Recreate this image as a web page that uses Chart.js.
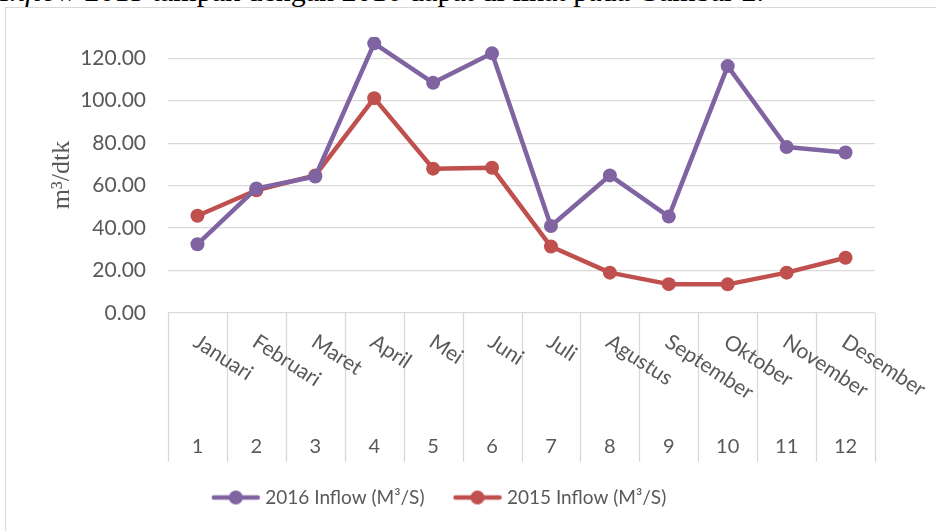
<!DOCTYPE html>
<html>
<head>
<meta charset="utf-8">
<script src="https://cdn.jsdelivr.net/npm/chart.js@4/dist/chart.umd.min.js"></script>
<style>
    body { margin: 0; background: #fff; width: 936px; height: 531px; overflow: hidden; position: relative; }
    #caption { position: absolute; left: 0; top: -24px; font: 30px 'Liberation Serif', serif; line-height: 30px; color: #000; white-space: nowrap; }
    #frame { position: absolute; left: 5px; top: 7px; width: 960px; height: 560px; border: 1px solid #d9d9d9; background: transparent; }
    #chart { position: absolute; left: 0; top: 0; }
</style>
</head>
<body>
<div id="caption"><i>Inflow</i> 2015 tampak dengan 2016 dapat di lihat pada Gambar 2.</div>
<div id="frame"></div>
<canvas id="chart" width="936" height="531"></canvas>
<script>
// Data grafik inflow bulanan
const months = ['Januari', 'Februari', 'Maret', 'April', 'Mei', 'Juni', 'Juli', 'Agustus', 'September', 'Oktober', 'November', 'Desember'];
const monthNumbers = ['1', '2', '3', '4', '5', '6', '7', '8', '9', '10', '11', '12'];
const inflow2016 = [32.4, 58.7, 64.3, 127.0, 108.4, 122.3, 41.0, 64.8, 45.4, 116.3, 78.2, 75.6];
const inflow2015 = [45.8, 57.8, 64.8, 101.2, 68.0, 68.4, 31.3, 19.0, 13.6, 13.5, 19.0, 26.0];
const yTicks = [0, 20, 40, 60, 80, 100, 120];

const PURPLE = '#8064A2';
const RED = '#C0504D';
const TEXT = '#595959';
const GRID = '#d9d9d9';
const FONT = 'Lato, "Open Sans", sans-serif';

// Simbol legenda: garis dengan lingkaran (gaya Excel)
function legendSymbol(color) {
    const c = document.createElement('canvas');
    c.width = 50;
    c.height = 16;
    const g = c.getContext('2d');
    g.strokeStyle = color;
    g.lineWidth = 4.5;
    g.lineCap = 'round';
    g.beginPath();
    g.moveTo(3, 8);
    g.lineTo(47, 8);
    g.stroke();
    g.fillStyle = color;
    g.beginPath();
    g.arc(25, 8, 7, 0, Math.PI * 2);
    g.fill();
    return c;
}

// Sumbu kategori bertingkat (nama bulan + nomor)
const multiLevelAxis = {
    id: 'multiLevelAxis',
    afterDraw(chart) {
        const { ctx, chartArea, scales } = chart;
        const x = scales.x;
        const w = (chartArea.right - chartArea.left) / months.length;
        const top = chartArea.bottom;

        ctx.save();
        ctx.strokeStyle = GRID;
        ctx.lineWidth = 1.3;
        for (let i = 0; i <= months.length; i++) {
            const px = Math.round(chartArea.left + i * w) + 0.5;
            ctx.beginPath();
            ctx.moveTo(px, top);
            ctx.lineTo(px, top + 149);
            ctx.stroke();
        }

        ctx.fillStyle = TEXT;
        ctx.font = '20px ' + FONT;
        ctx.textAlign = 'center';
        ctx.textBaseline = 'middle';
        monthNumbers.forEach((n, i) => {
            ctx.fillText(n, x.getPixelForValue(i), top + 134);
        });

        ctx.font = '21px ' + FONT;
        ctx.textAlign = 'left';
        ctx.textBaseline = 'top';
        months.forEach((m, i) => {
            ctx.save();
            ctx.translate(x.getPixelForValue(i) + 4, top + 18);
            ctx.rotate(33 * Math.PI / 180);
            ctx.fillText(m, 0, 0);
            ctx.restore();
        });
        ctx.restore();
    }
};

const ctx = document.getElementById('chart');

new Chart(ctx, {
    type: 'line',
    data: {
        labels: months,
        datasets: [
            {
                label: '2016 Inflow (M³/S)',
                data: inflow2016,
                borderColor: PURPLE,
                backgroundColor: PURPLE,
                borderWidth: 4.5,
                pointRadius: 7,
                pointBorderWidth: 0,
                pointBackgroundColor: PURPLE,
                borderJoinStyle: 'round',
                tension: 0
            },
            {
                label: '2015 Inflow (M³/S)',
                data: inflow2015,
                borderColor: RED,
                backgroundColor: RED,
                borderWidth: 4.5,
                pointRadius: 7,
                pointBorderWidth: 0,
                pointBackgroundColor: RED,
                borderJoinStyle: 'round',
                tension: 0
            }
        ]
    },
    options: {
        responsive: false,
        animation: false,
        layout: {
            padding: { top: 37, right: 61, bottom: 14, left: 7 }
        },
        plugins: {
            legend: {
                position: 'bottom',
                labels: {
                    color: TEXT,
                    font: { family: FONT, size: 19 },
                    usePointStyle: true,
                    pointStyleWidth: 40,
                    padding: 33,
                    generateLabels(chart) {
                        const items = Chart.defaults.plugins.legend.labels.generateLabels(chart);
                        items.forEach((item, i) => {
                            item.pointStyle = legendSymbol(i === 0 ? PURPLE : RED);
                        });
                        return items;
                    }
                }
            },
            tooltip: { enabled: false }
        },
        scales: {
            x: {
                offset: true,
                grid: { display: false },
                border: { display: false },
                ticks: { display: false },
                afterFit(scale) {
                    scale.height = 142;
                }
            },
            y: {
                min: 0,
                max: 130,
                border: { display: false },
                grid: { color: GRID, lineWidth: 1.3, drawTicks: false },
                ticks: {
                    stepSize: 20,
                    padding: 22,
                    color: TEXT,
                    font: { family: FONT, size: 21 },
                    callback: (v) => v.toFixed(2)
                },
                afterBuildTicks(scale) {
                    scale.ticks = yTicks.map(v => ({ value: v }));
                },
                afterFit(scale) {
                    scale.width = 161;
                },
                title: {
                    display: true,
                    text: 'm³/dtk',
                    color: TEXT,
                    font: { family: '"Liberation Serif", serif', size: 26 },
                    padding: { top: 40, bottom: 0 }
                }
            }
        }
    },
    plugins: [multiLevelAxis]
});
</script>
</body>
</html>
